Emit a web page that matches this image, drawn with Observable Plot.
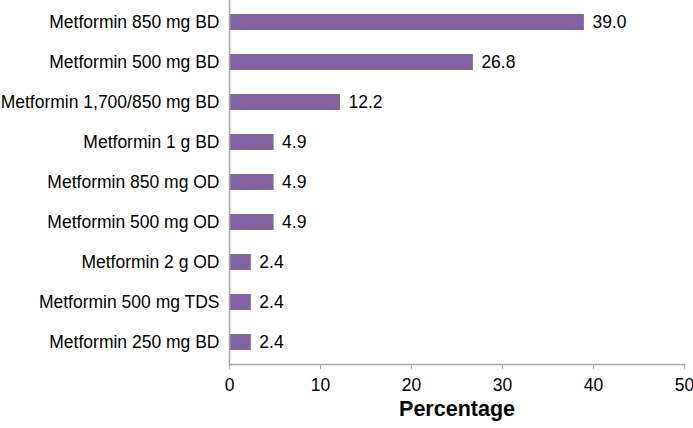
<!DOCTYPE html>
<html>
<head>
<meta charset="utf-8">
<script src="https://cdn.jsdelivr.net/npm/d3@7"></script>
<script src="https://cdn.jsdelivr.net/npm/@observablehq/plot@0.6"></script>
<style>
  html, body { margin: 0; padding: 0; background: #fff; }
  #chart svg { display: block; overflow: visible; }
</style>
</head>
<body>
<div id="chart"></div>
<script>
const categories = [
  "Metformin 850 mg BD",
  "Metformin 500 mg BD",
  "Metformin 1,700/850 mg BD",
  "Metformin 1 g BD",
  "Metformin 850 mg OD",
  "Metformin 500 mg OD",
  "Metformin 2 g OD",
  "Metformin 500 mg TDS",
  "Metformin 250 mg BD"
];
const values = [39.0, 26.8, 12.2, 4.9, 4.9, 4.9, 2.4, 2.4, 2.4];
const xTicks = [0, 10, 20, 30, 40, 50];
const xLabel = "Percentage";

const data = categories.map((c, i) => ({category: c, value: values[i]}));

const chart = Plot.plot({
  width: 693,
  height: 428,
  marginLeft: 229,
  marginRight: 9,
  marginTop: 0,
  marginBottom: 64,
  style: {fontFamily: "Liberation Sans, Arial, sans-serif", fontSize: "17.5px", color: "#000", background: "#fff", overflow: "visible"},
  x: {domain: [0, 50], ticks: xTicks, label: null},
  y: {domain: categories, paddingInner: 0.6, paddingOuter: 0.3, label: null},
  marks: [
    Plot.barX(data, {x: "value", y: "category", fill: "#8064A2"}),
    Plot.text(data, {x: "value", y: "category", text: d => d.value.toFixed(1), textAnchor: "start", dx: 8, fill: "#000", fontSize: 17.5}),
    Plot.ruleX([0], {stroke: "#A6A6A6", strokeWidth: 1.5}),
    Plot.frame({anchor: "bottom", stroke: "#A6A6A6", strokeWidth: 1.5}),
    Plot.axisX({ticks: xTicks, tickSize: 5, tickPadding: 9, stroke: "#A6A6A6", fill: "#000", fontSize: 17.5, label: null}),
    Plot.axisY({tickSize: 0, tickPadding: 10, fill: "#000", fontSize: 17.5, label: null}),
    Plot.text([xLabel], {frameAnchor: "bottom", dy: 51, text: d => d, fontWeight: "bold", fontSize: 21.5, fill: "#000"})
  ]
});
document.getElementById("chart").appendChild(chart);
</script>
</body>
</html>
